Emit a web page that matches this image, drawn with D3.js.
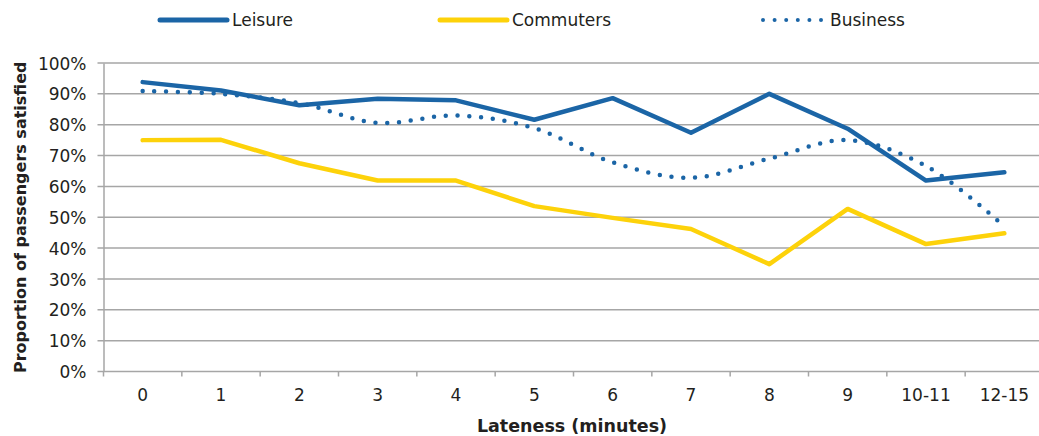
<!DOCTYPE html>
<html>
<head>
<meta charset="utf-8">
<script src="https://cdn.jsdelivr.net/npm/d3@7"></script>
<style>
  body { margin: 0; background: #fff; }
  text { font-family: "DejaVu Sans", "Liberation Sans", Arial, sans-serif; fill: #231f20; }
</style>
</head>
<body>
<div id="main"></div>
<script>
const categories = ["0", "1", "2", "3", "4", "5", "6", "7", "8", "9", "10-11", "12-15"];
const leisure   = [93.8, 91.1, 86.3, 88.4, 87.9, 81.6, 88.6, 77.4, 90.0, 78.7, 61.9, 64.6];
const commuters = [75.0, 75.1, 67.5, 61.9, 61.9, 53.6, 49.8, 46.2, 34.8, 52.7, 41.3, 44.8];
const business  = [90.9, 90.0, 87.0, 80.6, 83.0, 78.9, 67.8, 62.8, 69.0, 75.0, 66.6, 47.0];
const yTicks = [0, 10, 20, 30, 40, 50, 60, 70, 80, 90, 100];

const ctx = {
    w: 1039,
    h: 436,
    left: 103.5,
    right: 1043.5,
    top: 63,
    bottom: 371.5,
    BLUE: "#1b65a6",
    YELLOW: "#fdd20a",
    GRID: "#a6a6a6",
};

const series = [
    {name: "Leisure", values: leisure, color: ctx.BLUE, dotted: false, curve: d3.curveLinear, lx: 160},
    {name: "Commuters", values: commuters, color: ctx.YELLOW, dotted: false, curve: d3.curveLinear, lx: 440},
    {name: "Business", values: business, color: ctx.BLUE, dotted: true, curve: d3.curveCatmullRom.alpha(0.5), lx: 763},
];

const svg = d3.select("#main").append("svg")
              .attr("width", ctx.w)
              .attr("height", ctx.h);

const x = d3.scaleBand().domain(categories).range([ctx.left, ctx.right]);
const y = d3.scaleLinear().domain([0, 100]).range([ctx.bottom, ctx.top]);

// gridlines
svg.append("g")
   .selectAll("line")
   .data(yTicks)
   .enter()
   .append("line")
   .attr("x1", ctx.left - 6)
   .attr("x2", ctx.w)
   .attr("y1", (d) => y(d))
   .attr("y2", (d) => y(d))
   .attr("stroke", ctx.GRID)
   .attr("stroke-width", 1.5);

// y axis
const yAxis = svg.append("g")
                 .attr("transform", `translate(${ctx.left},0)`)
                 .call(d3.axisLeft(y).tickValues(yTicks).tickFormat((d) => d + "%").tickSize(0).tickPadding(17));
yAxis.select(".domain").attr("stroke", ctx.GRID).attr("stroke-width", 1.5);
yAxis.selectAll("text").style("font-size", "17px").attr("fill", "#231f20").attr("dy", "0.36em");

// x axis
const xTicks = categories.slice(1).map((c) => x(c)).concat([x(categories[0])]);
const xAxis = svg.append("g")
                 .attr("transform", `translate(0,${ctx.bottom})`)
                 .call(d3.axisBottom(x).tickSize(0).tickPadding(17));
xAxis.select(".domain").remove();
xAxis.selectAll("text").style("font-size", "17px").attr("fill", "#231f20");
svg.append("g")
   .selectAll("line")
   .data(xTicks)
   .enter()
   .append("line")
   .attr("x1", (d) => d)
   .attr("x2", (d) => d)
   .attr("y1", ctx.bottom)
   .attr("y2", ctx.bottom + 5)
   .attr("stroke", ctx.GRID)
   .attr("stroke-width", 1.5);

// axis titles
svg.append("text")
   .attr("x", 572)
   .attr("y", 432)
   .attr("text-anchor", "middle")
   .style("font-size", "17.5px")
   .style("font-weight", "bold")
   .text("Lateness (minutes)");

svg.append("text")
   .attr("transform", `translate(26,${(ctx.top + ctx.bottom) / 2}) rotate(-90)`)
   .attr("text-anchor", "middle")
   .style("font-size", "16px")
   .style("font-weight", "bold")
   .text("Proportion of passengers satisfied");

// lines
series.forEach(function(s){
    let lineGen = d3.line()
                    .x((d, i) => x(categories[i]) + x.bandwidth() / 2)
                    .y((d) => y(d))
                    .curve(s.curve);
    let p = svg.append("path")
               .datum(s.values)
               .attr("d", lineGen)
               .attr("fill", "none")
               .attr("stroke", s.color)
               .attr("stroke-width", 4.5)
               .attr("stroke-linejoin", "round")
               .attr("stroke-linecap", "round");
    if (s.dotted){
        p.attr("stroke-dasharray", "0 11.8");
    }
});

// legend
const legend = svg.append("g").attr("id", "legend");
series.forEach(function(s){
    let l = legend.append("line")
                  .attr("x1", s.lx)
                  .attr("x2", s.lx + (s.dotted ? 60 : 67))
                  .attr("y1", 20)
                  .attr("y2", 20)
                  .attr("stroke", s.color)
                  .attr("stroke-width", s.dotted ? 4 : 5)
                  .attr("stroke-linecap", "round");
    if (s.dotted){
        l.attr("stroke-dasharray", "0 11.6");
    }
    legend.append("text")
          .attr("x", s.lx + (s.dotted ? 67 : 72))
          .attr("y", 26)
          .style("font-size", "17px")
          .text(s.name);
});
</script>
</body>
</html>
